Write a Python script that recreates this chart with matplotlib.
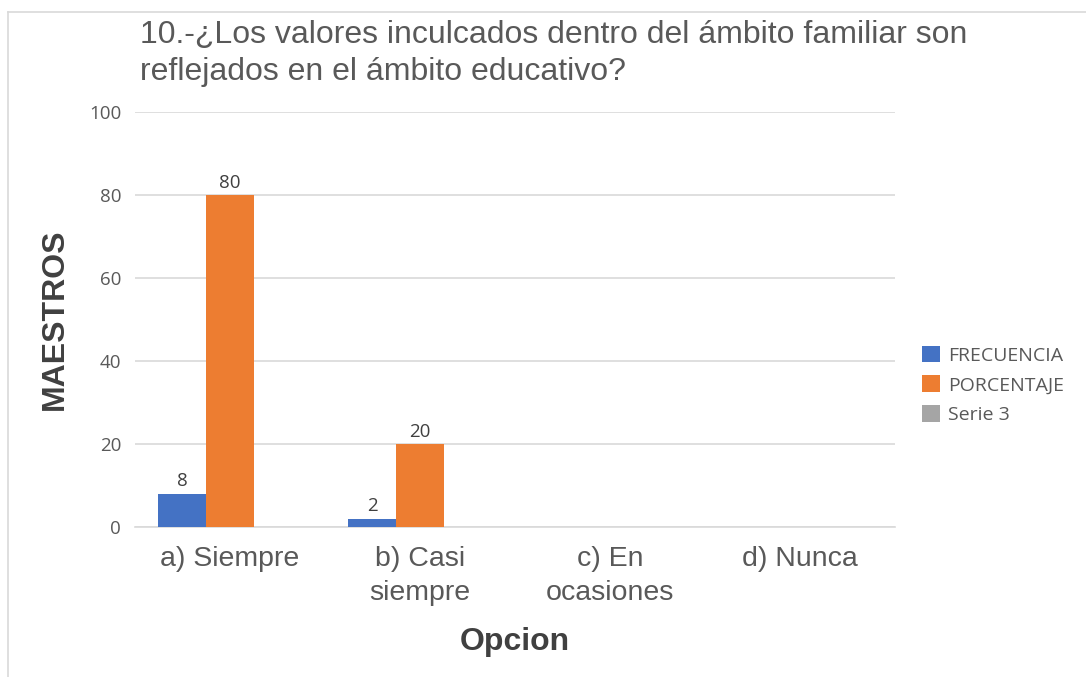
import matplotlib
matplotlib.use("Agg")
import matplotlib.pyplot as plt
import numpy as np
from matplotlib.lines import Line2D
from matplotlib.patches import Patch

# ---------------------------------------------------------------------------
# Data
# ---------------------------------------------------------------------------
CATEGORIES = ["a) Siempre", "b) Casi\nsiempre", "c) En\nocasiones", "d) Nunca"]
FRECUENCIA = [8, 2, 0, 0]
PORCENTAJE = [80, 20, 0, 0]
SERIE_3 = [0, 0, 0, 0]

SERIES_NAMES = ["FRECUENCIA", "PORCENTAJE", "Serie 3"]
SERIES_COLORS = ["#4472c4", "#ed7d31", "#a5a5a5"]

TITLE = "10.-¿Los valores inculcados dentro del ámbito familiar son\nreflejados en el ámbito educativo?"
Y_TICKS = [0, 20, 40, 60, 80, 100]

W, H = 1086, 677
TEXT_FONT = ["Liberation Sans", "DejaVu Sans"]
SMALL_FONT = ["Open Sans", "DejaVu Sans"]

fig = plt.figure(figsize=(W / 100, H / 100), dpi=100)
ax = fig.add_axes([135 / W, 1 - 527 / H, (895 - 135) / W, (527 - 112) / H])

x = np.arange(len(CATEGORIES))
width = 0.2526
series = [FRECUENCIA, PORCENTAJE, SERIE_3]
for i, (vals, name, color) in enumerate(zip(series, SERIES_NAMES, SERIES_COLORS)):
    bars = ax.bar(x + (i - 1) * width, vals, width, color=color, label=name, zorder=3)
    for b, v in zip(bars, vals):
        if v:
            ax.text(b.get_x() + b.get_width() / 2, v + 0.8, f"{v}",
                    ha="center", va="bottom", fontsize=13.5, color="#404040",
                    family=SMALL_FONT)

ax.set_xlim(-0.5, len(CATEGORIES) - 0.5)
ax.set_ylim(0, 100)
ax.set_yticks(Y_TICKS)
ax.yaxis.grid(True, color="#d9d9d9", lw=1.2, zorder=0)
ax.set_xticks(x)
ax.set_xticklabels(CATEGORIES, fontsize=20.5, color="#595959", family=TEXT_FONT,
                   linespacing=1.38)
for lbl in ax.get_yticklabels():
    lbl.set_fontsize(13.5)
    lbl.set_color("#595959")
    lbl.set_family(SMALL_FONT)
ax.tick_params(axis="both", length=0)
ax.tick_params(axis="y", pad=10)
ax.tick_params(axis="x", pad=14)
for side in ["top", "right", "left"]:
    ax.spines[side].set_visible(False)
ax.spines["bottom"].set_color("#d9d9d9")
ax.spines["bottom"].set_linewidth(1.2)

ax.set_ylabel("MAESTROS", fontsize=23, fontweight="bold", color="#404040",
              family=TEXT_FONT, labelpad=14)
ax.set_xlabel("Opcion", fontsize=23, fontweight="bold", color="#404040",
              family=TEXT_FONT, labelpad=15)

fig.text(140 / W, 1 - 20 / H, TITLE, ha="left", va="top", fontsize=23,
         color="#595959", family=TEXT_FONT, linespacing=1.3)

handles = [Patch(facecolor=c, edgecolor="none") for c in SERIES_COLORS]
fig.legend(handles, SERIES_NAMES, loc="center left",
           bbox_to_anchor=(904 / W, 1 - 385 / H), frameon=False,
           prop={"family": SMALL_FONT, "size": 14}, labelcolor="#595959",
           handlelength=0.95, handleheight=0.95, handletextpad=0.4,
           labelspacing=0.55)

# chart border (top and left edges visible)
fig.add_artist(Line2D([8 / W, 8 / W], [0, 1 - 12 / H], color="#d9d9d9", lw=1.2))
fig.add_artist(Line2D([8 / W, 1], [1 - 12 / H, 1 - 12 / H], color="#d9d9d9", lw=1.2))

fig.savefig("out.png", dpi=100)
